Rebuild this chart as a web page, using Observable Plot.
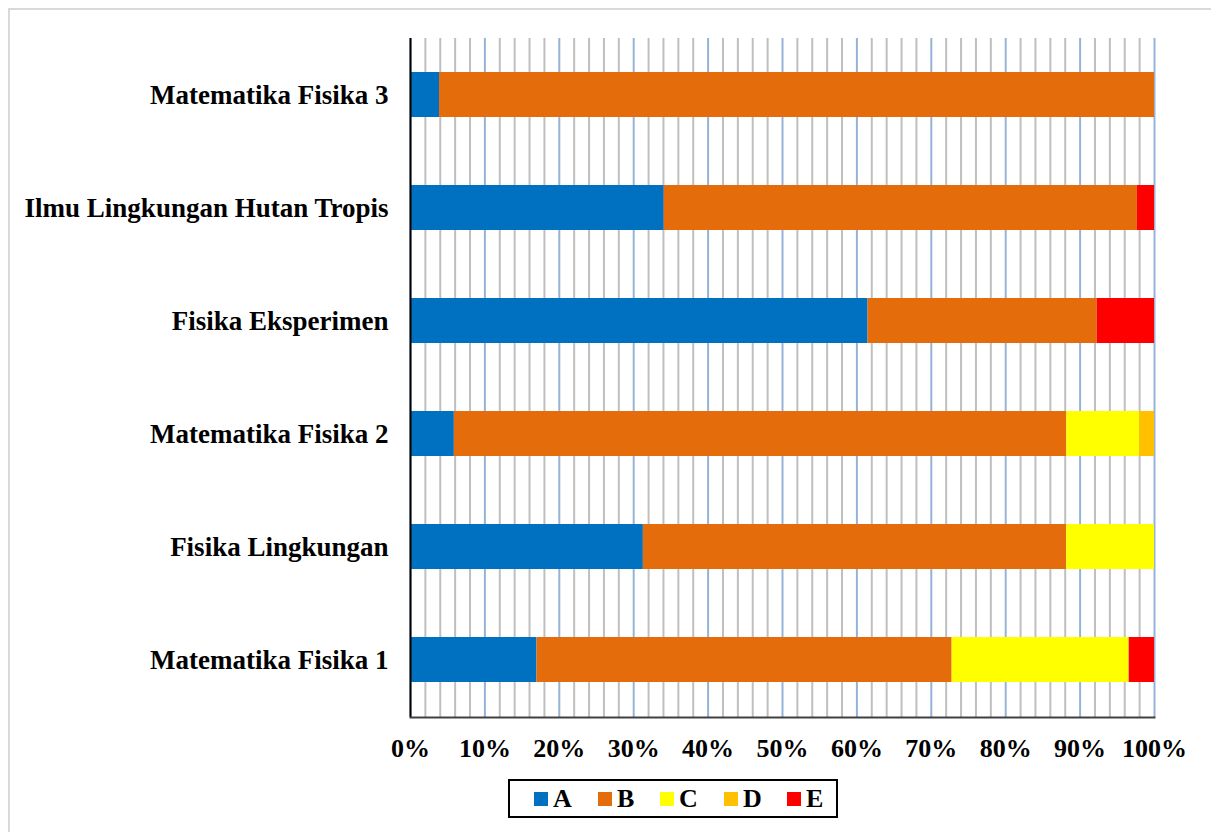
<!DOCTYPE html>
<html>
<head>
<meta charset="utf-8">
<script src="https://cdn.jsdelivr.net/npm/d3@7"></script>
<script src="https://cdn.jsdelivr.net/npm/@observablehq/plot@0.6"></script>
<style>
  html, body { margin: 0; padding: 0; background: #fff; }
  #wrap { position: relative; width: 1211px; height: 832px; overflow: hidden; }
  #border { position: absolute; left: 8px; top: 8px; width: 1220px; height: 840px; border: 2px solid #d9d9d9; box-sizing: border-box; }
  #chart { position: absolute; left: 0; top: 0; }
  #legend { position: absolute; left: 508px; top: 779px; width: 330px; height: 39px; border: 2px solid #000; box-sizing: border-box;
            font-family: 'Liberation Serif', 'Times New Roman', serif; font-weight: bold; font-size: 26px; }
  .item { position: absolute; top: 0; height: 35px; display: flex; align-items: center; }
  .sw { width: 14px; height: 14px; margin-right: 5px; }
</style>
</head>
<body>
<div id="wrap">
  <div id="border"></div>
  <div id="chart"></div>
  <div id="legend"></div>
</div>
<script>
const courses = ["Matematika Fisika 3", "Ilmu Lingkungan Hutan Tropis", "Fisika Eksperimen", "Matematika Fisika 2", "Fisika Lingkungan", "Matematika Fisika 1"];
const grades = ["A", "B", "C", "D", "E"];
const gradeColors = ["#0070C0", "#E46C0A", "#FFFF00", "#FFC000", "#FF0000"];
// percentages per course (same order as courses)
const valA = [3.9, 34.1, 61.5, 5.9, 31.3, 17.0];
const valB = [96.1, 63.6, 30.8, 82.4, 56.9, 55.8];
const valC = [0, 0, 0, 9.8, 11.8, 23.8];
const valD = [0, 0, 0, 2.0, 0, 0];
const valE = [0, 2.3, 7.7, 0, 0, 3.4];
const xTicks = [0, 0.1, 0.2, 0.3, 0.4, 0.5, 0.6, 0.7, 0.8, 0.9, 1.0];
const minorTicks = [0.02,0.04,0.06,0.08,0.12,0.14,0.16,0.18,0.22,0.24,0.26,0.28,0.32,0.34,0.36,0.38,0.42,0.44,0.46,0.48,0.52,0.54,0.56,0.58,0.62,0.64,0.66,0.68,0.72,0.74,0.76,0.78,0.82,0.84,0.86,0.88,0.92,0.94,0.96,0.98];

const series = [valA, valB, valC, valD, valE];
const data = [];
courses.forEach((c, i) => grades.forEach((g, j) => data.push({course: c, grade: g, value: series[j][i]})));

const font = "'Liberation Serif', 'Times New Roman', serif";
const chart = Plot.plot({
  width: 1211,
  height: 770,
  marginLeft: 410,
  marginRight: 57,
  marginTop: 38,
  marginBottom: 53,
  style: {fontFamily: font, fontSize: "26px", fontWeight: "bold", color: "#000", background: "transparent"},
  x: {domain: [0, 1]},
  y: {domain: courses, paddingInner: 0.6, paddingOuter: 0.3},
  color: {domain: grades, range: gradeColors},
  marks: [
    Plot.ruleX(minorTicks, {stroke: "#bfbfbf", strokeWidth: 2}),
    Plot.ruleX(xTicks, {stroke: "#95b3d7", strokeWidth: 2}),
    Plot.barX(data, Plot.stackX({x: "value", y: "course", fill: "grade", offset: "normalize", order: grades, inset: 0})),
    Plot.ruleX([0], {stroke: "#000", strokeWidth: 2}),
    Plot.frame({anchor: "bottom", stroke: "#404040", strokeWidth: 2}),
    Plot.axisX({ticks: xTicks, tickFormat: d3.format(".0%"), tickSize: 0, tickPadding: 21, fontSize: 26, fontWeight: "bold", label: null}),
    Plot.axisY({tickSize: 0, tickPadding: 22, fontSize: 27, fontWeight: "bold", label: null})
  ]
});
document.getElementById("chart").appendChild(chart);

const legend = document.getElementById("legend");
const lefts = [24, 88, 150, 214, 277];
grades.forEach((g, i) => {
  const it = document.createElement("div");
  it.className = "item";
  it.style.left = lefts[i] + "px";
  const sw = document.createElement("div");
  sw.className = "sw";
  sw.style.background = gradeColors[i];
  it.appendChild(sw);
  const t = document.createElement("span");
  t.textContent = g;
  it.appendChild(t);
  legend.appendChild(it);
});
</script>
</body>
</html>
